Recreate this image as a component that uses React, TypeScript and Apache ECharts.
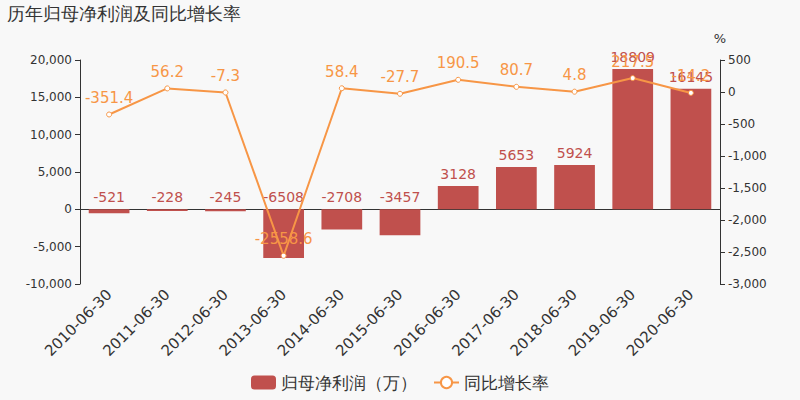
import { useEffect, useRef } from 'react'
import * as echarts from 'echarts'

const categories = [
  '2010-06-30', '2011-06-30', '2012-06-30', '2013-06-30', '2014-06-30', '2015-06-30',
  '2016-06-30', '2017-06-30', '2018-06-30', '2019-06-30', '2020-06-30',
]
const profitValues = [-521, -228, -245, -6508, -2708, -3457, 3128, 5653, 5924, 18809, 16145]
const growthValues = [-351.4, 56.2, -7.3, -2558.6, 58.4, -27.7, 190.5, 80.7, 4.8, 217.5, -14.2]

const BAR_COLOR = '#c0504d'
const LINE_COLOR = '#f79646'
const FONT = 'DejaVu Sans, sans-serif'

export default function App() {
  const chartRef = useRef<HTMLDivElement>(null)

  useEffect(() => {
    if (!chartRef.current) return
    document.body.style.margin = '0'
    const chart = echarts.init(chartRef.current, undefined, { renderer: 'svg' })

    const axisLabel = { color: '#333', fontSize: 12, fontFamily: FONT }
    chart.setOption({
      animation: false,
      backgroundColor: '#f8f8f8',
      textStyle: { fontFamily: FONT },
      title: {
        text: '历年归母净利润及同比增长率',
        left: 2,
        top: -1,
        textStyle: { color: '#333', fontSize: 18, fontWeight: 'normal', fontFamily: FONT },
      },
      legend: {
        bottom: 4,
        itemWidth: 25,
        itemHeight: 14,
        itemGap: 16,
        textStyle: { color: '#333', fontSize: 17, fontFamily: FONT },
        data: [
          { name: '归母净利润（万）', icon: 'roundRect' },
          { name: '同比增长率' },
        ],
      },
      grid: { left: 80, right: 80, top: 60, bottom: 116 },
      xAxis: {
        type: 'category',
        data: categories,
        axisLine: { lineStyle: { color: '#333' } },
        axisTick: { lineStyle: { color: '#333' } },
        axisLabel: { color: '#333', fontSize: 15, rotate: 45, interval: 0, fontFamily: FONT },
      },
      yAxis: [
        {
          type: 'value',
          min: -10000,
          max: 20000,
          interval: 5000,
          splitLine: { show: false },
          axisLine: { show: true, lineStyle: { color: '#333' } },
          axisTick: { show: true },
          axisLabel,
        },
        {
          type: 'value',
          name: '%',
          nameGap: 15,
          nameTextStyle: { color: '#333', fontSize: 13, fontFamily: FONT, align: 'center' },
          min: -3000,
          max: 500,
          interval: 500,
          splitLine: { show: false },
          axisLine: { show: true, lineStyle: { color: '#333' } },
          axisTick: { show: true },
          axisLabel,
        },
      ],
      series: [
        {
          name: '归母净利润（万）',
          type: 'bar',
          data: profitValues,
          barWidth: '70%',
          itemStyle: { color: BAR_COLOR },
          label: {
            show: true,
            position: 'top',
            color: BAR_COLOR,
            fontSize: 14,
            fontFamily: FONT,
          },
        },
        {
          name: '同比增长率',
          type: 'line',
          yAxisIndex: 1,
          data: growthValues,
          symbol: 'circle',
          symbolSize: 5,
          itemStyle: { color: '#fff', borderColor: LINE_COLOR, borderWidth: 1 },
          lineStyle: { color: LINE_COLOR, width: 2 },
          label: {
            show: true,
            position: 'top',
            distance: 6,
            color: LINE_COLOR,
            fontSize: 15,
            fontFamily: FONT,
          },
        },
      ],
    })

    return () => chart.dispose()
  }, [])

  return <div ref={chartRef} style={{ width: 800, height: 400 }} />
}
